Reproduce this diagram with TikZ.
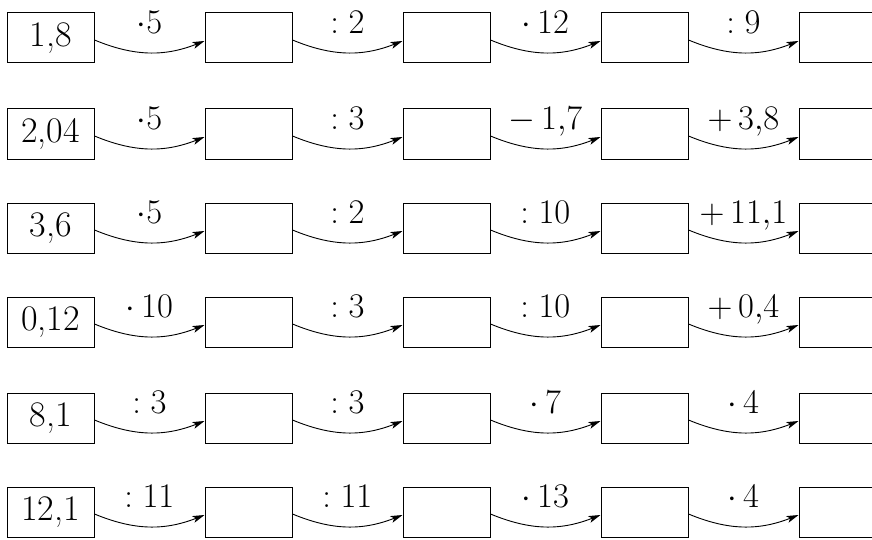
\documentclass[tikz,border=0pt]{standalone}
\usetikzlibrary{arrows.meta, positioning}
\begin{document}
\begin{tikzpicture}[
  x=0.5pt, y=0.5pt,
  numbox/.style={draw, line width=0.5pt, minimum width=43.5pt, minimum height=25pt, inner sep=0pt, font=\fontsize{18}{20}\selectfont},
  oparrow/.style={-{Stealth[length=6pt, width=3.5pt, inset=1.5pt]}, line width=0.45pt, bend right=22},
  oplabel/.style={midway, anchor=base, yshift=9.5pt, font=\fontsize{16}{18}\selectfont},
  node distance=55pt,
]
\useasboundingbox (0,0) rectangle (872,-540);
\foreach \r/\y/\val/\opa/\opb/\opc/\opd in {
  1/38/{1,8}/{\cdot 5}/{:2}/{\cdot\,12}/{:9},
  2/134/{2,04}/{\cdot 5}/{:3}/{-\,1{,}7}/{+\,3{,}8},
  3/228/{3,6}/{\cdot 5}/{:2}/{:10}/{+\,11{,}1},
  4/322/{0,12}/{\cdot\,10}/{:3}/{:10}/{+\,0{,}4},
  5/418/{8,1}/{:3}/{:3}/{\cdot\,7}/{\cdot\,4},
  6/512/{12,1}/{:11}/{:11}/{\cdot\,13}/{\cdot\,4}}{
  % start value and four empty boxes
  \node[numbox] (n\r-0) at (50.5,-\y) {\val};
  \node[numbox, right=of n\r-0] (n\r-1) {};
  \node[numbox, right=of n\r-1] (n\r-2) {};
  \node[numbox, right=of n\r-2] (n\r-3) {};
  \node[numbox, right=of n\r-3] (n\r-4) {};
  % operations
  \draw[oparrow] ([yshift=-1pt]n\r-0.east) to node[oplabel] {$\opa$} ([yshift=-1.5pt]n\r-1.west);
  \draw[oparrow] ([yshift=-1pt]n\r-1.east) to node[oplabel] {$\opb$} ([yshift=-1.5pt]n\r-2.west);
  \draw[oparrow] ([yshift=-1pt]n\r-2.east) to node[oplabel] {$\opc$} ([yshift=-1.5pt]n\r-3.west);
  \draw[oparrow] ([yshift=-1pt]n\r-3.east) to node[oplabel] {$\opd$} ([yshift=-1.5pt]n\r-4.west);
}
\end{tikzpicture}
\end{document}
